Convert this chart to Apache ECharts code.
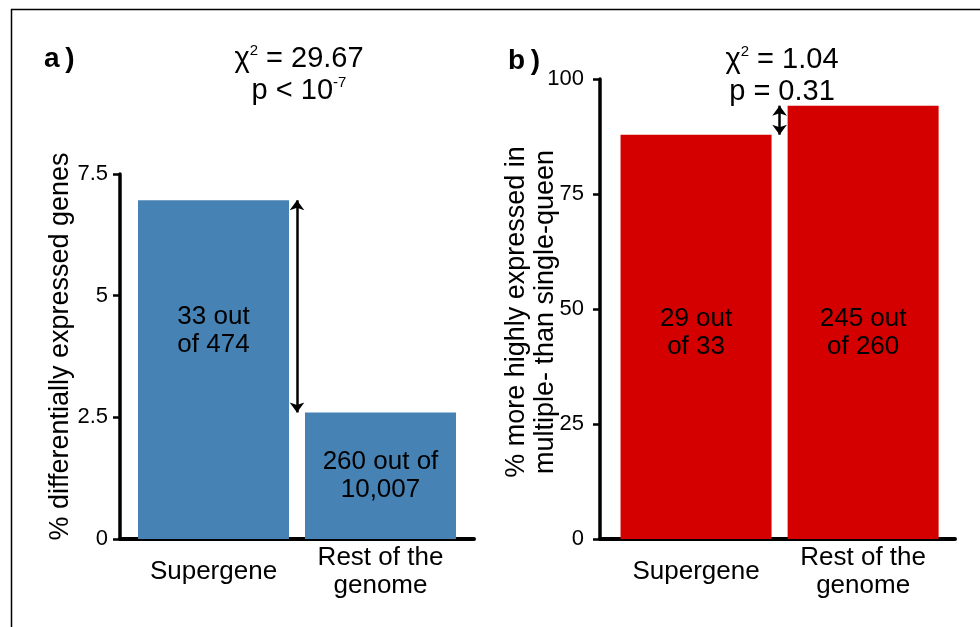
<!DOCTYPE html>
<html>
<head>
<meta charset="utf-8">
<script src="https://cdn.jsdelivr.net/npm/echarts@6/dist/echarts.min.js"></script>
<style>html,body{margin:0;padding:0;background:#fff}#c{width:980px;height:627px}</style>
</head>
<body>
<div id="c"></div>
<script>
const categories = ['Supergene', 'Rest of the\ngenome'];
const valuesA = [6.96, 2.60];
const valuesB = [87.9, 94.2];
const barTextA = ['33 out\nof 474', '260 out of\n10,007'];
const barTextB = ['29 out\nof 33', '245 out\nof 260'];
const yNameA = '% differentially expressed genes';
const yNameB = '% more highly expressed in\nmultiple- than single-queen';
const statA = ['29.67', '< 10', '-7'];
const statB = ['1.04', '= 0.31'];
const panelLabels = ['a\u2009)', 'b\u2009)'];

const FONT = 'Liberation Sans, Arial, Helvetica, sans-serif';
const chart = echarts.init(document.getElementById('c'));

function xAxisCfg(idx, min, max) {
  return {
    type: 'value', gridIndex: idx, min: min, max: max,
    splitLine: { show: false },
    axisLine: { show: true, onZero: false, lineStyle: { color: '#000', width: 4 } },
    axisTick: { show: false },
    axisLabel: {
      customValues: [1, 2],
      formatter: v => categories[Math.round(v) - 1] || '',
      color: '#000', fontSize: 26, fontFamily: FONT, lineHeight: 28,
      verticalAlign: 'middle', margin: 33
    }
  };
}
function yAxisCfg(idx, max, interval, name, nameGap, namePad, labMargin) {
  return {
    type: 'value', gridIndex: idx, min: 0, max: max, interval: interval,
    splitLine: { show: false },
    axisLine: { show: true, lineStyle: { color: '#000', width: 3.5 } },
    axisTick: { show: true, length: 7, lineStyle: { color: '#000', width: 2.5 } },
    axisLabel: { color: '#000', fontSize: 22, fontFamily: FONT, margin: labMargin },
    name: name, nameLocation: 'middle', nameGap: nameGap, nameMoveOverlap: false,
    nameTextStyle: { color: '#000', fontSize: 27, fontFamily: FONT, lineHeight: 29, padding: namePad }
  };
}
function barSeries(idx, values, texts, color, posList, arrowFrom, arrowTo) {
  return {
    type: 'bar', xAxisIndex: idx, yAxisIndex: idx, barWidth: 151,
    itemStyle: { color: color },
    data: values.map((v, i) => ({
      value: [i + 1, v],
      label: {
        show: true, position: posList[i], align: 'center', verticalAlign: 'middle',
        formatter: texts[i], color: '#000', fontSize: 26, lineHeight: 28, fontFamily: FONT
      }
    })),
    markLine: {
      silent: true, symbol: ['arrow', 'arrow'], symbolSize: [11, 10],
      lineStyle: { color: '#000', width: 2.5, type: 'solid' },
      label: { show: false },
      data: [[{ coord: [1.5, arrowFrom] }, { coord: [1.5, arrowTo] }]]
    }
  };
}

const richStat = {
  t: { fontSize: 29, lineHeight: 32, color: '#000', fontFamily: FONT, fontWeight: 'normal', verticalAlign: 'middle' },
  s: { fontSize: 15, lineHeight: 22, color: '#000', fontFamily: FONT, fontWeight: 'normal', verticalAlign: 'top' }
};

const option = {
  backgroundColor: '#fff',
  animation: false,
  grid: [
    { left: 120, top: 174, width: 354, height: 365 },
    { left: 600, top: 79, width: 355, height: 460 }
  ],
  xAxis: [ xAxisCfg(0, 0.44, 2.56), xAxisCfg(1, 0.425, 2.55) ],
  yAxis: [
    yAxisCfg(0, 7.5, 2.5, yNameA, 45, [0, 0, 0, 20], 12),
    yAxisCfg(1, 100, 25, yNameB, 40, [0, 6, 0, 0], 16)
  ],
  title: [
    { text: '{t|\u03c7}{s|2}{t| = ' + statA[0] + '}\n{t|p ' + statA[1] + '}{s|' + statA[2] + '}',
      left: 294, top: 38, textAlign: 'center', textStyle: { rich: richStat } },
    { text: '{t|\u03c7}{s|2}{t| = ' + statB[0] + '}\n{t|p ' + statB[1] + '}',
      left: 777, top: 39, textAlign: 'center', textStyle: { rich: richStat } },
    { text: panelLabels[0], left: 39, top: 40, textStyle: { fontSize: 28, fontWeight: 'bold', color: '#000', fontFamily: FONT } },
    { text: panelLabels[1], left: 503, top: 42, textStyle: { fontSize: 28, fontWeight: 'bold', color: '#000', fontFamily: FONT } }
  ],
  graphic: [
    { type: 'line', shape: { x1: 11, y1: 9.5, x2: 980, y2: 9.5 }, style: { stroke: '#000', lineWidth: 1.5 } },
    { type: 'line', shape: { x1: 11.5, y1: 9, x2: 11.5, y2: 627 }, style: { stroke: '#000', lineWidth: 1.5 } }
  ],
  series: [
    barSeries(0, valuesA, barTextA, '#4682B4', [['50%', '38.5%'], 'inside'], valuesA[0], valuesA[1]),
    barSeries(1, valuesB, barTextB, '#D40000', [['50%', '49%'], ['50%', '52.5%']], valuesB[1], valuesB[0])
  ]
};
chart.setOption(option);
</script>
</body>
</html>
